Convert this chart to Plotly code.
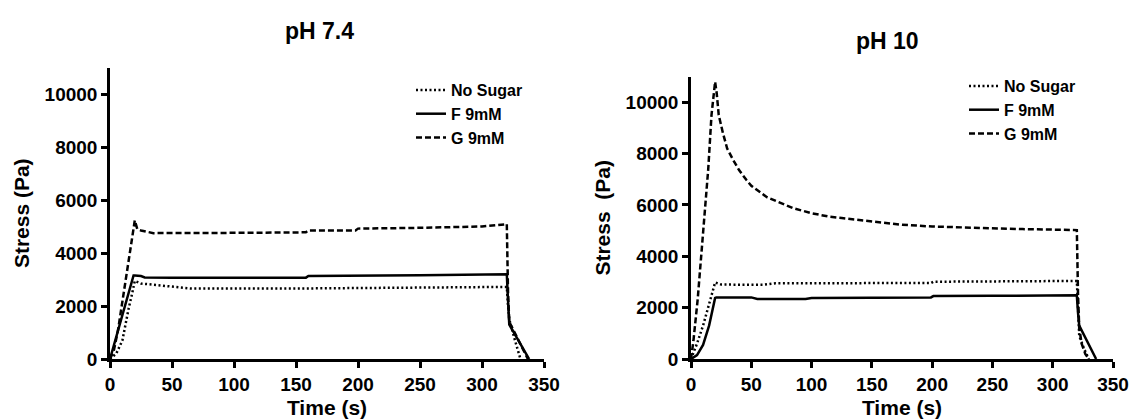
import plotly.graph_objects as go

# ---------------- data ----------------
# pH 7.4
t74_ns = [0, 5, 10, 12, 15, 18, 20, 25, 40, 60, 65, 150, 250, 300, 320, 321, 322, 326, 331]
s74_ns = [0, 200, 700, 1200, 1900, 2500, 2950, 2850, 2780, 2700, 2660, 2660, 2680, 2700, 2720, 2000, 1500, 800, 0]

t74_f = [0, 5, 10, 15, 19, 20, 25, 28, 50, 158, 160, 250, 320, 321, 322, 338]
s74_f = [0, 840, 1680, 2500, 3150, 3150, 3130, 3080, 3070, 3070, 3130, 3160, 3200, 2200, 1300, 0]

t74_g = [0, 3, 6.5, 13, 20, 22, 25, 35, 50, 100, 158, 160, 198, 200, 250, 300, 318, 320, 321, 322, 337]
s74_g = [0, 300, 1100, 3100, 5230, 4900, 4850, 4750, 4750, 4760, 4780, 4850, 4850, 4920, 4950, 5000, 5080, 5100, 2500, 1400, 0]

# pH 10
t10_ns = [0, 5, 10, 16, 19, 20, 25, 40, 60, 70, 150, 199, 201, 250, 300, 320, 321, 322, 326, 330]
s10_ns = [0, 600, 1300, 2300, 2900, 2980, 2900, 2890, 2890, 2950, 2960, 2960, 3010, 3020, 3030, 3040, 2000, 900, 400, 0]

t10_f = [0, 5, 10, 15, 20, 21, 50, 55, 95, 100, 199, 201, 250, 320, 321, 322, 336]
s10_f = [0, 150, 550, 1300, 2380, 2400, 2400, 2340, 2340, 2380, 2400, 2450, 2460, 2480, 1800, 1300, 0]

t10_g = [0, 2, 5.5, 8, 11.6, 14.3, 17, 19, 20, 21.3, 23, 26.5, 30, 35, 40, 46, 50, 63, 75, 85,
         100, 115, 125, 150, 175, 200, 225, 250, 275, 300, 320, 321, 322, 324, 327, 330]
s10_g = [0, 700, 2300, 3700, 5700, 7400, 9500, 10500, 10800, 10360, 9500, 8800, 8200, 7750, 7350, 6970, 6750, 6300, 6050, 5870,
         5680, 5540, 5490, 5360, 5230, 5160, 5120, 5090, 5060, 5040, 5020, 2500, 1200, 600, 200, 0]

series_names = ["No Sugar", "F 9mM", "G 9mM"]
x_ticks = [0, 50, 100, 150, 200, 250, 300, 350]
x_ticklabels = ["0", "50", "100", "150", "200", "250", "300", "350"]
y_ticks = [0, 2000, 4000, 6000, 8000, 10000]
y_ticklabels = ["0", "2000", "4000", "6000", "8000", "10000"]
panel_titles = ["pH 7.4", "pH 10"]
y_titles = ["Stress (Pa)", "Stress  (Pa)"]
x_title = "Time (s)"

# ---------------- styling ----------------
FONT = "Liberation Sans, Arial, sans-serif"
W, H = 1131, 419
dashes = ["2px,2.5px", "solid", "6px,3px"]
LW = 2.5

fig = go.Figure()

panels = [
    ((t74_ns, s74_ns), (t74_f, s74_f), (t74_g, s74_g)),
    ((t10_ns, s10_ns), (t10_f, s10_f), (t10_g, s10_g)),
]
for p, data in enumerate(panels):
    xa = "x" if p == 0 else "x2"
    ya = "y" if p == 0 else "y2"
    lg = "legend" if p == 0 else "legend2"
    for k, (tx, sy) in enumerate(data):
        fig.add_trace(go.Scatter(
            x=tx, y=sy, mode="lines", name=series_names[k],
            line=dict(color="black", width=LW, dash=dashes[k]),
            xaxis=xa, yaxis=ya, legend=lg, showlegend=True,
        ))

def px_x(v):
    return v / W

def px_y(v):
    return 1 - v / H

tickfont = dict(family=FONT, size=19, color="black", weight="bold")
titlefont = dict(family=FONT, size=21, color="black", weight="bold")
legfont = dict(family=FONT, size=16, color="black", weight="bold")

common_x = dict(range=[0, 350], tickvals=x_ticks, ticktext=x_ticklabels, ticks="outside", ticklen=6, tickwidth=2.5,
                showline=True, linewidth=2.5, linecolor="black", showgrid=False, zeroline=False,
                tickfont=tickfont, title=dict(text=x_title, font=titlefont, standoff=7),
                tickcolor="black", automargin=False)
common_y = dict(range=[0, 11000], tickvals=y_ticks, ticktext=y_ticklabels, ticks="outside", ticklen=6, tickwidth=2.5,
                showline=True, linewidth=2.5, linecolor="black", showgrid=False, zeroline=False,
                tickfont=tickfont, tickcolor="black", automargin=False)

fig.update_layout(
    width=W, height=H,
    margin=dict(l=0, r=0, t=0, b=0),
    paper_bgcolor="white", plot_bgcolor="white",
    xaxis=dict(common_x, domain=[px_x(110), px_x(544)], anchor="y"),
    yaxis=dict(common_y, domain=[px_y(359), px_y(67.5)], anchor="x",
               title=dict(text=y_titles[0], font=titlefont, standoff=10)),
    xaxis2=dict(common_x, domain=[px_x(691), px_x(1113)], anchor="y2"),
    yaxis2=dict(common_y, domain=[px_y(359), px_y(76.6)], anchor="x2",
                title=dict(text=y_titles[1], font=titlefont, standoff=10)),
    legend=dict(x=px_x(411), y=px_y(73), xanchor="left", yanchor="top",
                font=legfont, bgcolor="rgba(0,0,0,0)", itemwidth=30, tracegroupgap=0),
    legend2=dict(x=px_x(964), y=px_y(69), xanchor="left", yanchor="top",
                 font=legfont, bgcolor="rgba(0,0,0,0)", itemwidth=30, tracegroupgap=0),
    annotations=[
        dict(text=panel_titles[0], x=px_x(319), y=px_y(31), xref="paper", yref="paper",
             showarrow=False, xanchor="center", yanchor="middle",
             font=dict(family=FONT, size=23, color="black", weight="bold")),
        dict(text=panel_titles[1], x=px_x(887), y=px_y(41), xref="paper", yref="paper",
             showarrow=False, xanchor="center", yanchor="middle",
             font=dict(family=FONT, size=23, color="black", weight="bold")),
    ],
)

fig.write_html("out.html", config={"displayModeBar": False},
               post_script="document.body.style.margin='0';")
